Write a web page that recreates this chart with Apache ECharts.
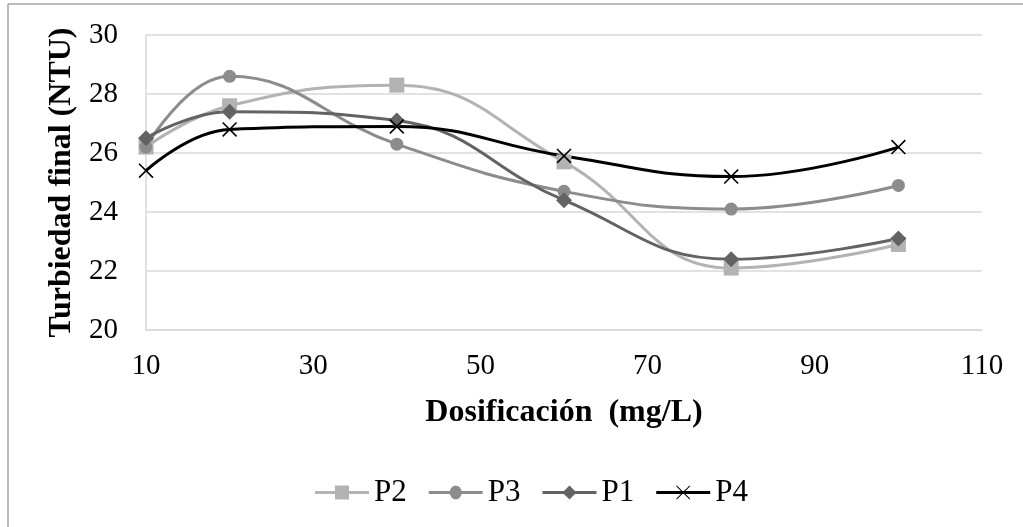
<!DOCTYPE html>
<html>
<head>
<meta charset="utf-8">
<script src="https://cdn.jsdelivr.net/npm/echarts@6/dist/echarts.min.js"></script>
<style>
  html, body { margin: 0; padding: 0; background: #fff; }
  #chart { width: 1023px; height: 527px; }
</style>
</head>
<body>
<div id="chart"></div>
<script>
// Dosage (mg/L) and final turbidity (NTU) for each test series
const dosage = [10, 20, 40, 60, 80, 100];
const p2 = [26.2, 27.6, 28.3, 25.7, 22.1, 22.9];
const p3 = [26.2, 28.6, 26.3, 24.7, 24.1, 24.9];
const p1 = [26.5, 27.4, 27.1, 24.4, 22.4, 23.1];
const p4 = [25.4, 26.8, 26.9, 25.9, 25.2, 26.2];

const xTitle = 'Dosificación  (mg/L)';
const yTitle = 'Turbiedad final (NTU)';

const serif = '"Liberation Serif", "Times New Roman", serif';
const crossPath = 'path://M0,0.75L0.75,0L10,9.25L9.25,10Z M9.25,0L10,0.75L0.75,10L0,9.25Z';

// Legend keys: a short line segment with the series marker in the middle (54 x 14 box)
const keyBar = 'M0,5.5H54V8.5H0Z ';
const keyIcons = {
  P2: 'path://' + keyBar + 'M20,0H34V14H20Z',
  P3: 'path://' + keyBar + 'M21,7A6,7 0 0,1 33,7A6,7 0 0,1 21,7Z M27,0H27.01V14H27Z',
  P1: 'path://' + keyBar + 'M27,0L34,7L27,14L20,7Z',
  P4: 'path://' + keyBar + 'M20,0.7L20.7,0L34,13.3L33.3,14Z M33.3,0L34,0.7L20.7,14L20,13.3Z'
};

function pairs(ys) {
  return dosage.map((x, i) => [x, ys[i]]);
}

function makeSeries(name, ys, color, symbol, size, width) {
  return {
    name: name,
    type: 'line',
    data: pairs(ys),
    smooth: 0.45,
    symbol: symbol,
    symbolSize: size,
    showAllSymbol: true,
    lineStyle: { color: color, width: width },
    itemStyle: { color: color },
    emphasis: { disabled: true },
    z: 2
  };
}

const chart = echarts.init(document.getElementById('chart'), null, { renderer: 'canvas' });

chart.setOption({
  animation: false,
  backgroundColor: '#ffffff',
  graphic: [
    { type: 'line', shape: { x1: 8, y1: 4, x2: 8, y2: 527 }, style: { stroke: '#a6a6a6', lineWidth: 1.5 } },
    { type: 'line', shape: { x1: 8, y1: 4, x2: 1023, y2: 4 }, style: { stroke: '#a6a6a6', lineWidth: 1.5 } }
  ],
  grid: { left: 146, right: 41, top: 35, bottom: 197, containLabel: false },
  legend: {
    left: 310,
    top: 472,
    itemWidth: 54,
    itemHeight: 14,
    itemGap: 22,
    itemStyle: { borderWidth: 0 },
    textStyle: { fontFamily: serif, fontSize: 31, color: '#000' },
    data: ['P2', 'P3', 'P1', 'P4'].map(n => ({ name: n, icon: keyIcons[n] }))
  },
  xAxis: {
    type: 'value',
    min: 10,
    max: 110,
    interval: 20,
    name: xTitle,
    nameLocation: 'middle',
    nameGap: 67,
    nameTextStyle: { fontFamily: serif, fontSize: 32, fontWeight: 'bold', color: '#000' },
    axisLine: { show: true, lineStyle: { color: '#d9d9d9', width: 1.5 } },
    axisTick: { show: false },
    splitLine: { show: false },
    axisLabel: { fontFamily: serif, fontSize: 29, color: '#000', margin: 22 }
  },
  yAxis: {
    type: 'value',
    min: 20,
    max: 30,
    interval: 2,
    name: yTitle,
    nameLocation: 'middle',
    nameGap: 67,
    nameTextStyle: { fontFamily: serif, fontSize: 32, fontWeight: 'bold', color: '#000' },
    axisLine: { show: true, lineStyle: { color: '#d9d9d9', width: 1.5 } },
    axisTick: { show: false },
    splitLine: { show: true, lineStyle: { color: '#d9d9d9', width: 1.5 } },
    axisLabel: { fontFamily: serif, fontSize: 29, color: '#000', margin: 28 }
  },
  series: [
    makeSeries('P2', p2, '#b3b3b3', 'rect', 15, 3),
    makeSeries('P3', p3, '#8c8c8c', 'circle', 13, 3),
    makeSeries('P1', p1, '#636363', 'diamond', 16, 3),
    makeSeries('P4', p4, '#000000', crossPath, 15, 3)
  ]
});
</script>
</body>
</html>
